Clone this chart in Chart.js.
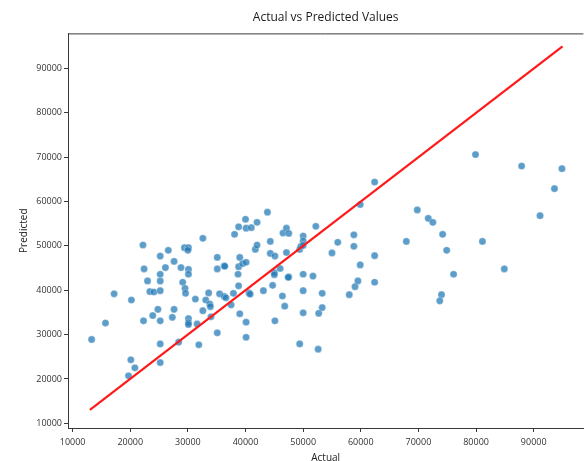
<!DOCTYPE html>
<html>
<head>
<meta charset="utf-8">
<script src="https://cdn.jsdelivr.net/npm/chart.js@4.4.1/dist/chart.umd.min.js"></script>
<style>
  html, body { margin: 0; padding: 0; background: #fff; overflow: hidden; }
  #wrap { width: 588px; height: 461px; position: relative; }
</style>
</head>
<body>
<div id="wrap"><canvas id="c" width="588" height="461"></canvas></div>
<script>
const chartTitle = "Actual vs Predicted Values";
const xTitle = "Actual";
const yTitle = "Predicted";
const xTicks = [10000, 20000, 30000, 40000, 50000, 60000, 70000, 80000, 90000];
const yTicks = [10000, 20000, 30000, 40000, 50000, 60000, 70000, 80000, 90000];

const actual = [
  13300, 15700, 17200, 20100, 20800, 19700, 20200, 22200, 22400, 22300,
  23000, 23400, 24100, 23900, 24800, 25200, 25200, 25200, 25200, 25200,
  25200, 25200, 26100, 26600, 27600, 27300, 27600, 28400, 28800, 29100,
  29500, 29600, 29400, 30100, 30000, 30100, 30100, 30100, 30100, 30100,
  31300, 31900, 31600, 32600, 32600, 33100, 33600, 33800, 33900, 34000,
  35100, 35100, 35100, 35500, 36300, 36400, 36300, 36600, 37500, 37900,
  38100, 38800, 38700, 38800, 39000, 38800, 39000, 39500, 40000, 40100,
  40100, 40100, 40100, 40600, 40800, 41000, 42000, 41700, 42000, 43100,
  43800, 44300, 44300, 44700, 45100, 45000, 45000, 45100, 46000, 46400,
  46500, 47100, 47100, 46800, 47500, 47500, 47400, 49400, 49600, 49400,
  50000, 50000, 50000, 50000, 50000, 50000, 51700, 52200, 52600, 52700,
  53300, 53300, 55000, 56000, 58000, 58800, 58800, 59000, 59500, 59900,
  59900, 62400, 62400, 62400, 79900, 87900, 94900, 93600, 91100, 69800,
  71700, 72500, 74200, 74900, 67900, 81100, 76100, 84900, 74000, 73700
];
const predicted = [
  28900, 32600, 39200, 24300, 22500, 20700, 37800, 50200, 44800, 33100,
  42100, 39700, 39600, 34300, 35700, 39900, 42100, 43600, 47700, 33100,
  27900, 23700, 45100, 49000, 46500, 33900, 35700, 28300, 45100, 41800,
  40400, 39300, 49600, 49600, 49000, 44700, 43600, 33600, 32700, 32300,
  38000, 27700, 32400, 51700, 35400, 37800, 39400, 36900, 36300, 34000,
  47400, 44800, 30400, 39200, 45500, 45400, 38600, 38300, 36700, 39300,
  52600, 54300, 43600, 45300, 47400, 41000, 34700, 46000, 56000, 54000,
  46300, 32800, 29400, 39400, 39100, 54100, 55300, 49200, 50200, 39900,
  57600, 51000, 48300, 41100, 47700, 44000, 43500, 33100, 44900, 38700,
  52900, 54000, 48500, 36400, 52800, 43000, 42900, 49200, 49900, 27900,
  52200, 51100, 50100, 43600, 39900, 34900, 43200, 54400, 26700, 34800,
  39300, 36100, 48400, 50800, 39000, 52500, 49900, 40800, 42100, 45700,
  59300, 64400, 47800, 41800, 70600, 68000, 67400, 62900, 56800, 58100,
  56200, 55300, 52600, 49000, 51000, 51000, 43600, 44800, 39000, 37600
];
const idealLine = [13000, 95000];

const scatterPts = actual.map((a, i) => ({ x: a, y: predicted[i] }));
const linePts = idealLine.map(v => ({ x: v, y: v }));

const FONT = "'Open Sans', sans-serif";
const AX = '#3a3a3a';

const framePlugin = {
  id: 'frame',
  afterDatasetsDraw(chart) {
    const { ctx, chartArea } = chart;
    ctx.save();
    ctx.strokeStyle = AX;
    ctx.lineWidth = 1;
    ctx.beginPath();
    ctx.moveTo(chartArea.left, chartArea.top + 0.5);
    ctx.lineTo(chartArea.right, chartArea.top + 0.5);
    ctx.stroke();
    ctx.restore();
  }
};

new Chart(document.getElementById('c'), {
  type: 'scatter',
  data: {
    datasets: [
      {
        type: 'line',
        data: linePts,
        borderColor: '#ff1a1a',
        borderWidth: 2.2,
        pointRadius: 0,
        fill: false,
        order: 0
      },
      {
        data: scatterPts,
        backgroundColor: 'rgba(31,119,180,0.72)',
        borderColor: 'rgba(255,255,255,0.55)',
        borderWidth: 0.6,
        pointRadius: 3.6,
        order: 1
      }
    ]
  },
  plugins: [framePlugin],
  options: {
    responsive: false,
    animation: false,
    layout: { padding: { left: 0, right: 0, top: 0, bottom: 0 } },
    plugins: {
      legend: { display: false },
      tooltip: { enabled: false },
      title: {
        display: true,
        text: chartTitle,
        fullSize: false,
        color: '#1a1a1a',
        font: { family: FONT, size: 12, weight: 'normal' },
        padding: { top: 10, bottom: 9 }
      }
    },
    scales: {
      x: {
        type: 'linear',
        min: 9200,
        max: 98620,
        afterBuildTicks: s => { s.ticks = xTicks.map(v => ({ value: v })); },
        afterFit: s => { s.height = 33; },
        grid: { display: true, drawOnChartArea: false, drawTicks: true, tickLength: 4, color: AX },
        border: { display: true, color: AX, width: 1 },
        ticks: { color: '#333', font: { family: FONT, size: 9 }, padding: 5, maxRotation: 0, callback: v => String(v) },
        title: { display: true, text: xTitle, color: '#222', font: { family: FONT, size: 10 }, padding: { top: 0, bottom: -3 } }
      },
      y: {
        type: 'linear',
        min: 8940,
        max: 97900,
        afterBuildTicks: s => { s.ticks = yTicks.map(v => ({ value: v })); },
        afterFit: s => { s.width = 68; },
        grid: { display: true, drawOnChartArea: false, drawTicks: true, tickLength: 4, color: AX },
        border: { display: true, color: AX, width: 1 },
        ticks: { color: '#333', font: { family: FONT, size: 9 }, padding: 2, callback: v => String(v) },
        title: { display: true, text: yTitle, color: '#222', font: { family: FONT, size: 10 }, padding: { top: 18, bottom: 0 } }
      }
    }
  }
});
</script>
</body>
</html>
